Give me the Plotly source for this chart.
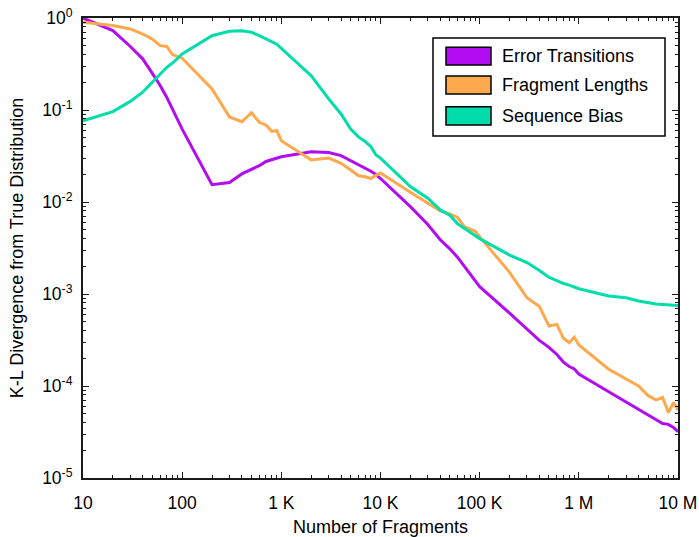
import plotly.graph_objects as go

# ---- data ----
fragments = [10, 20, 30, 40, 50, 60, 70, 80, 90,
             100, 200, 300, 400, 500, 600, 700, 800, 900,
             1e3, 2e3, 3e3, 4e3, 5e3, 6e3, 7e3, 8e3, 9e3,
             1e4, 2e4, 3e4, 4e4, 5e4, 6e4, 7e4, 8e4, 9e4,
             1e5, 2e5, 3e5, 4e5, 5e5, 6e5, 7e5, 8e5, 9e5,
             1e6, 2e6, 3e6, 4e6, 5e6, 6e6, 7e6, 8e6, 9e6,
             1e7]

error_transitions = [1.0, 0.73, 0.49, 0.36, 0.25, 0.185, 0.137, 0.103, 0.078,
                     0.062, 0.0154, 0.0163, 0.0202, 0.0228, 0.0248, 0.0276, 0.0289, 0.030,
                     0.031, 0.0352, 0.0345, 0.0319, 0.0282, 0.0256, 0.0234, 0.0216, 0.0199,
                     0.018, 0.0089, 0.0057, 0.0039, 0.0031, 0.0025, 0.0020, 0.00165, 0.00139,
                     0.00120, 0.00062, 0.000417, 0.000313, 0.000263, 0.00022, 0.000182, 0.000163, 0.000153,
                     0.000135, 8.67e-5, 6.7e-5, 5.5e-5, 4.78e-5, 4.32e-5, 3.91e-5, 3.83e-5, 3.55e-5,
                     3.19e-5]

fragment_lengths = [0.90, 0.83, 0.76, 0.67, 0.59, 0.50, 0.49, 0.40, 0.38,
                    0.365, 0.169, 0.084, 0.0745, 0.0935, 0.0735, 0.0687, 0.0586, 0.0596,
                    0.0464, 0.0286, 0.030, 0.0263, 0.0223, 0.0193, 0.0188, 0.018, 0.0195,
                    0.0207, 0.0128, 0.0097, 0.008, 0.0074, 0.0068, 0.0054, 0.0051, 0.0048,
                    0.0042, 0.00172, 0.00091, 0.00073, 0.000449, 0.000468, 0.00033, 0.000295, 0.000339,
                    0.000279, 0.000152, 0.00012, 0.0001, 7.85e-5, 7.05e-5, 7.5e-5, 5.13e-5, 6.6e-5,
                    5.5e-5]

sequence_bias = [0.0765, 0.096, 0.124, 0.156, 0.20, 0.246, 0.291, 0.324, 0.363,
                 0.407, 0.642, 0.717, 0.727, 0.70, 0.642, 0.59, 0.555, 0.52,
                 0.468, 0.236, 0.132, 0.0905, 0.062, 0.051, 0.0455, 0.040, 0.0325,
                 0.030, 0.0147, 0.011, 0.0082, 0.0072, 0.0058, 0.0052, 0.0047, 0.0043,
                 0.0040, 0.00265, 0.0022, 0.0018, 0.00152, 0.0014, 0.0013, 0.00125, 0.0012,
                 0.00114, 0.00095, 0.00091, 0.00084, 0.0008, 0.00078, 0.00077, 0.00076, 0.00076,
                 0.00075]

series_names = ["Error Transitions", "Fragment Lengths", "Sequence Bias"]
series_values = [error_transitions, fragment_lengths, sequence_bias]
series_colors = ["#B20CF2", "#FFA94F", "#00DDAA"]

x_tickvals = [10, 100, 1e3, 1e4, 1e5, 1e6, 1e7]
x_ticktext = ["10", "100", "1 K", "10 K", "100 K", "1 M", "10 M"]
y_tickvals = [1e-5, 1e-4, 1e-3, 1e-2, 1e-1, 1]
y_ticktext = ["10<sup>-5</sup>", "10<sup>-4</sup>", "10<sup>-3</sup>",
              "10<sup>-2</sup>", "10<sup>-1</sup>", "10<sup>0</sup>"]

FONT = "Liberation Sans, Arial, Helvetica, sans-serif"

fig = go.Figure()
for name, vals, col in zip(series_names, series_values, series_colors):
    fig.add_trace(go.Scatter(x=fragments, y=vals, mode="lines", name=name,
                             line=dict(color=col, width=3), showlegend=False))

# minor tick positions (2..9 within each decade)
x_minor = [m * 10 ** e for e in range(1, 7) for m in range(2, 10)]
y_minor = [m * 10.0 ** e for e in range(-5, 0) for m in range(2, 10)]

axis_common = dict(showline=True, linecolor="#1a1a1a", linewidth=2, mirror="ticks",
                   ticks="inside", ticklen=6, tickwidth=1.2, tickcolor="#1a1a1a",
                   showgrid=False, zeroline=False, automargin=False,
                   ticklabeloverflow="allow",
                   tickfont=dict(family=FONT, size=17.5, color="black"))

fig.update_xaxes(type="log", range=[1, 7], tickvals=x_tickvals, ticktext=x_ticktext,
                 minor=dict(tickvals=x_minor, ticks="inside", ticklen=3, tickwidth=1,
                            tickcolor="#1a1a1a", showgrid=False),
                 title=dict(text="Number of Fragments", font=dict(family=FONT, size=18, color="black"),
                            standoff=18),
                 ticklabelstandoff=8,
                 **axis_common)
fig.update_yaxes(type="log", range=[-5, 0], tickvals=y_tickvals, ticktext=y_ticktext,
                 minor=dict(tickvals=y_minor, ticks="inside", ticklen=3, tickwidth=1,
                            tickcolor="#1a1a1a", showgrid=False),
                 title=dict(text="K-L Divergence from True Distribution",
                            font=dict(family=FONT, size=18, color="black"), standoff=14),
                 ticklabelstandoff=5,
                 **axis_common)

PL, PR, PT, PB = 83, 678, 18, 478  # plot-area edges in window pixels

def px_x(p):
    return (p - PL) / float(PR - PL)

def px_y(p):
    return (PB - p) / float(PB - PT)

# legend drawn as box + swatches + text
fig.add_shape(type="rect", xref="paper", yref="paper",
              x0=px_x(433), x1=px_x(665), y0=px_y(136), y1=px_y(38),
              line=dict(color="black", width=1.5), fillcolor="white", layer="above")
swatch_rows = [(47.3, 65), (76, 94), (106.7, 125)]
for (top, bot), name, col in zip(swatch_rows, series_names, series_colors):
    fig.add_shape(type="rect", xref="paper", yref="paper",
                  x0=px_x(446), x1=px_x(491), y0=px_y(bot), y1=px_y(top),
                  line=dict(color="black", width=1.5), fillcolor=col, layer="above")
    fig.add_annotation(xref="paper", yref="paper", x=px_x(500), y=px_y((top + bot) / 2),
                       xanchor="left", yanchor="middle", showarrow=False, text=name,
                       font=dict(family=FONT, size=18, color="black"))

fig.update_layout(width=699, height=537,
                  margin=dict(l=PL, r=699 - PR, t=PT, b=537 - PB, autoexpand=False),
                  paper_bgcolor="white", plot_bgcolor="white",
                  font=dict(family=FONT, color="black"))

fig.write_html("out.html", config={"displayModeBar": False},
               post_script="document.body.style.margin='0';document.body.style.overflow='hidden';")
